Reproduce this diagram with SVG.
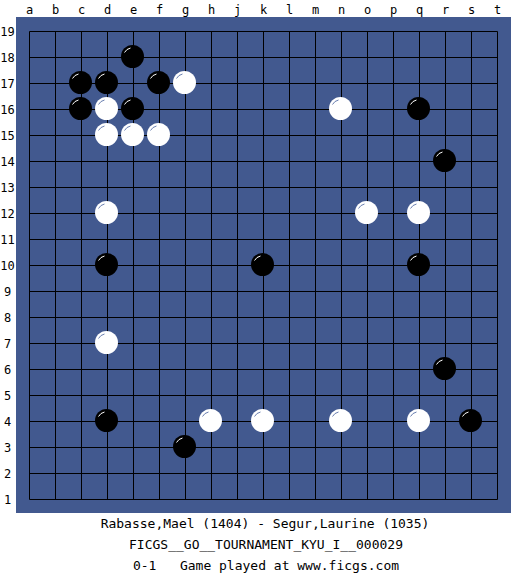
<svg xmlns="http://www.w3.org/2000/svg" width="525" height="575" viewBox="0 0 525 575">
<defs>
<style>
.lbl{font-family:"DejaVu Sans Mono","Liberation Mono",monospace;font-size:12px;fill:#000;text-anchor:middle}
.cap{font-family:"DejaVu Sans Mono","Liberation Mono",monospace;font-size:13px;fill:#000;text-anchor:middle}
.grid line{stroke:#000;stroke-width:1}
.b{fill:#000}
.w{fill:#fff}
.hb{fill:none;stroke:#fff;stroke-width:1}
.hw{fill:none;stroke:#6a7fb0;stroke-width:1}
</style>
<g id="bs"><circle class="b" r="11.5"/><path class="hb" d="M-8,-4 A9,9 0 0 1 -2,-8.5"/></g>
<g id="ws"><circle class="w" r="11.5"/><path class="hw" d="M-8,-4 A9,9 0 0 1 -2,-8.5"/></g>
</defs>
<rect width="525" height="575" fill="#fff"/>
<rect id="board" x="16" y="17" width="495" height="496" fill="#42598f"/>
<g class="grid">
<line x1="29.5" y1="31.5" x2="29.5" y2="499.5"/><line x1="55.5" y1="31.5" x2="55.5" y2="499.5"/><line x1="81.5" y1="31.5" x2="81.5" y2="499.5"/><line x1="107.5" y1="31.5" x2="107.5" y2="499.5"/><line x1="133.5" y1="31.5" x2="133.5" y2="499.5"/><line x1="159.5" y1="31.5" x2="159.5" y2="499.5"/><line x1="185.5" y1="31.5" x2="185.5" y2="499.5"/><line x1="211.5" y1="31.5" x2="211.5" y2="499.5"/><line x1="237.5" y1="31.5" x2="237.5" y2="499.5"/><line x1="263.5" y1="31.5" x2="263.5" y2="499.5"/><line x1="289.5" y1="31.5" x2="289.5" y2="499.5"/><line x1="315.5" y1="31.5" x2="315.5" y2="499.5"/><line x1="341.5" y1="31.5" x2="341.5" y2="499.5"/><line x1="367.5" y1="31.5" x2="367.5" y2="499.5"/><line x1="393.5" y1="31.5" x2="393.5" y2="499.5"/><line x1="419.5" y1="31.5" x2="419.5" y2="499.5"/><line x1="445.5" y1="31.5" x2="445.5" y2="499.5"/><line x1="471.5" y1="31.5" x2="471.5" y2="499.5"/><line x1="497.5" y1="31.5" x2="497.5" y2="499.5"/>
<line x1="29.5" y1="31.5" x2="497.5" y2="31.5"/><line x1="29.5" y1="57.5" x2="497.5" y2="57.5"/><line x1="29.5" y1="83.5" x2="497.5" y2="83.5"/><line x1="29.5" y1="109.5" x2="497.5" y2="109.5"/><line x1="29.5" y1="135.5" x2="497.5" y2="135.5"/><line x1="29.5" y1="161.5" x2="497.5" y2="161.5"/><line x1="29.5" y1="187.5" x2="497.5" y2="187.5"/><line x1="29.5" y1="213.5" x2="497.5" y2="213.5"/><line x1="29.5" y1="239.5" x2="497.5" y2="239.5"/><line x1="29.5" y1="265.5" x2="497.5" y2="265.5"/><line x1="29.5" y1="291.5" x2="497.5" y2="291.5"/><line x1="29.5" y1="317.5" x2="497.5" y2="317.5"/><line x1="29.5" y1="343.5" x2="497.5" y2="343.5"/><line x1="29.5" y1="369.5" x2="497.5" y2="369.5"/><line x1="29.5" y1="395.5" x2="497.5" y2="395.5"/><line x1="29.5" y1="421.5" x2="497.5" y2="421.5"/><line x1="29.5" y1="447.5" x2="497.5" y2="447.5"/><line x1="29.5" y1="473.5" x2="497.5" y2="473.5"/><line x1="29.5" y1="499.5" x2="497.5" y2="499.5"/>
</g>
<g id="col-labels">
<text class="lbl" x="29.5" y="14">a</text><text class="lbl" x="55.5" y="14">b</text><text class="lbl" x="81.5" y="14">c</text><text class="lbl" x="107.5" y="14">d</text><text class="lbl" x="133.5" y="14">e</text><text class="lbl" x="159.5" y="14">f</text><text class="lbl" x="185.5" y="14">g</text><text class="lbl" x="211.5" y="14">h</text><text class="lbl" x="237.5" y="14">j</text><text class="lbl" x="263.5" y="14">k</text><text class="lbl" x="289.5" y="14">l</text><text class="lbl" x="315.5" y="14">m</text><text class="lbl" x="341.5" y="14">n</text><text class="lbl" x="367.5" y="14">o</text><text class="lbl" x="393.5" y="14">p</text><text class="lbl" x="419.5" y="14">q</text><text class="lbl" x="445.5" y="14">r</text><text class="lbl" x="471.5" y="14">s</text><text class="lbl" x="497.5" y="14">t</text>
</g>
<g id="row-labels">
<text class="lbl" x="7.5" y="35.5">19</text><text class="lbl" x="7.5" y="61.5">18</text><text class="lbl" x="7.5" y="87.5">17</text><text class="lbl" x="7.5" y="113.5">16</text><text class="lbl" x="7.5" y="139.5">15</text><text class="lbl" x="7.5" y="165.5">14</text><text class="lbl" x="7.5" y="191.5">13</text><text class="lbl" x="7.5" y="217.5">12</text><text class="lbl" x="7.5" y="243.5">11</text><text class="lbl" x="7.5" y="269.5">10</text><text class="lbl" x="7.5" y="295.5">9</text><text class="lbl" x="7.5" y="321.5">8</text><text class="lbl" x="7.5" y="347.5">7</text><text class="lbl" x="7.5" y="373.5">6</text><text class="lbl" x="7.5" y="399.5">5</text><text class="lbl" x="7.5" y="425.5">4</text><text class="lbl" x="7.5" y="451.5">3</text><text class="lbl" x="7.5" y="477.5">2</text><text class="lbl" x="7.5" y="503.5">1</text>
</g>
<g id="stones">
<use href="#bs" x="132.5" y="56.5"/>
<use href="#bs" x="80.5" y="82.5"/><use href="#bs" x="106.5" y="82.5"/><use href="#bs" x="158.5" y="82.5"/><use href="#ws" x="184.5" y="82.5"/>
<use href="#bs" x="80.5" y="108.5"/><use href="#ws" x="106.5" y="108.5"/><use href="#bs" x="132.5" y="108.5"/><use href="#ws" x="340.5" y="108.5"/><use href="#bs" x="418.5" y="108.5"/>
<use href="#ws" x="106.5" y="134.5"/><use href="#ws" x="132.5" y="134.5"/><use href="#ws" x="158.5" y="134.5"/>
<use href="#bs" x="444.5" y="160.5"/>
<use href="#ws" x="106.5" y="212.5"/><use href="#ws" x="366.5" y="212.5"/><use href="#ws" x="418.5" y="212.5"/>
<use href="#bs" x="106.5" y="264.5"/><use href="#bs" x="262.5" y="264.5"/><use href="#bs" x="418.5" y="264.5"/>
<use href="#ws" x="106.5" y="342.5"/>
<use href="#bs" x="444.5" y="368.5"/>
<use href="#bs" x="106.5" y="420.5"/><use href="#ws" x="210.5" y="420.5"/><use href="#ws" x="262.5" y="420.5"/><use href="#ws" x="340.5" y="420.5"/><use href="#ws" x="418.5" y="420.5"/><use href="#bs" x="470.5" y="420.5"/>
<use href="#bs" x="184.5" y="446.5"/>
</g>
<g id="caption">
<text class="cap" x="265" y="528">Rabasse,Mael (1404) - Segur,Laurine (1035)</text>
<text class="cap" x="266" y="549">FICGS__GO__TOURNAMENT_KYU_I__000029</text>
<text class="cap" x="266" y="570" xml:space="preserve">0-1   Game played at www.ficgs.com</text>
</g>
</svg>
